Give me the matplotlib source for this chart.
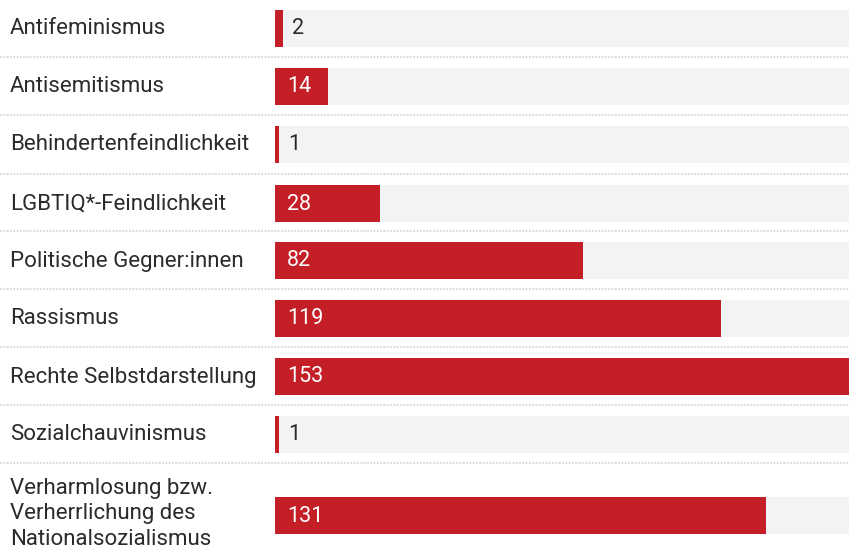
import matplotlib
matplotlib.use('Agg')
import matplotlib.pyplot as plt
from matplotlib.transforms import blended_transform_factory

plt.rcParams['font.family'] = ['Roboto', 'DejaVu Sans']

kategorien = ['Antifeminismus', 'Antisemitismus', 'Behindertenfeindlichkeit',
              'LGBTIQ*-Feindlichkeit', 'Politische Gegner:innen', 'Rassismus',
              'Rechte Selbstdarstellung', 'Sozialchauvinismus',
              'Verharmlosung bzw.\nVerherrlichung des\nNationalsozialismus']
werte = [2, 14, 1, 28, 82, 119, 153, 1, 131]

rot = '#c41e26'
grau = '#f2f3f4'
text_farbe = '#2b2b2b'

# Zeilenmitten in Pixeln (von oben)
y_mitte = [28, 86, 144, 203, 260, 318, 376, 434, 515]
trenner = [57, 115, 174, 231, 289, 347, 405, 463]

W, H = 849, 549
fig = plt.figure(figsize=(W / 100, H / 100), dpi=100)
ax = fig.add_axes([275 / W, 0, 574 / W, 1])
ax.set_xlim(0, max(werte))
ax.set_ylim(H, 0)
ax.axis('off')

hoehe = 37
ax.barh(y_mitte, [max(werte)] * len(werte), height=hoehe, color=grau, left=0)
ax.barh(y_mitte, werte, height=hoehe, color=rot)

px = max(werte) / 574  # Dateneinheiten pro Pixel
for y, w in zip(y_mitte, werte):
    if w / px > 40:
        ax.text(12 * px, y + 1, str(w), color='white', va='center', ha='left',
                fontsize=15.5)
    else:
        ax.text(w + 9 * px, y + 1, str(w), color=text_farbe, va='center', ha='left',
                fontsize=15.5)

tr = blended_transform_factory(fig.transFigure, ax.transData)
for i, (y, lab) in enumerate(zip(y_mitte, kategorien)):
    mehrzeilig = '\n' in lab
    ax.text(10 / W, y - 1 if mehrzeilig else y + 1, lab, transform=tr,
            va='center', ha='left', fontsize=16, color=text_farbe,
            linespacing=1.28)

for y in trenner:
    ax.plot([0, 1], [y, y], transform=tr, color='#dcdcdc', lw=1.4,
            linestyle=(0, (1, 0.7)), clip_on=False)

fig.savefig('out.png', dpi=100, facecolor='white')
